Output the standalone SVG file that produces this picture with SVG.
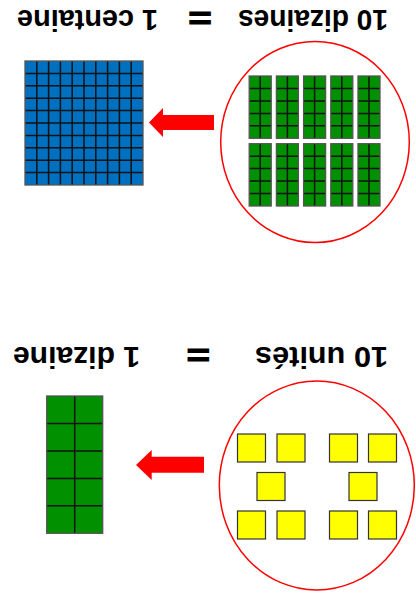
<svg xmlns="http://www.w3.org/2000/svg" xmlns:xlink="http://www.w3.org/1999/xlink" width="416" height="605" viewBox="0 0 416 605">
<style>
.t{font-family:"Liberation Sans",Arial,sans-serif;font-weight:bold;font-size:30px;fill:#000}
.eq{font-family:"Liberation Sans",Arial,sans-serif;font-weight:bold;font-size:32px;fill:#000;stroke:#000;stroke-width:1.2}
.ring{fill:none;stroke:#ff0000;stroke-width:1.5}
.g{fill:#009000}
.b{fill:#0070c0}
.y{fill:#ffff00;stroke:#333;stroke-width:1.2}
.ln{fill:none;stroke:#111;stroke-width:1.5}
.ob{fill:none;stroke:#555;stroke-width:1.3}
.arr{fill:#ff0000}
</style>
<defs>
<g id="bar">
<rect class="g" x="0" y="0" width="22" height="62.3"/>
<path class="ln" d="M11 0V62.3M0 12.46H22M0 24.92H22M0 37.38H22M0 49.84H22"/>
<rect class="ob" x="0" y="0" width="22" height="62.3"/>
</g>
</defs>
<g transform="rotate(180 208 302.5)">
<g id="text-unites">
<text class="t" x="28" y="258" textLength="133" lengthAdjust="spacingAndGlyphs">10 unités</text>
<text class="eq" transform="translate(217.7 260.6) scale(1.25 1)" text-anchor="middle">=</text>
<text class="t" x="276" y="258" textLength="127" lengthAdjust="spacingAndGlyphs">1 dizaine</text>
</g>
<g id="text-dizaines">
<text class="t" x="28" y="595" textLength="150" lengthAdjust="spacingAndGlyphs">10 dizaines</text>
<text class="eq" transform="translate(216 597.9) scale(1.25 1)" text-anchor="middle">=</text>
<text class="t" x="258" y="595" textLength="141" lengthAdjust="spacingAndGlyphs">1 centaine</text>
</g>
<g id="ten-units">
<ellipse class="ring" cx="99.2" cy="119.5" rx="97.5" ry="104.5"/>
<rect class="y" x="19.5" y="66" width="28" height="28"/>
<rect class="y" x="58.5" y="66" width="28" height="28"/>
<rect class="y" x="111" y="66" width="28" height="28"/>
<rect class="y" x="150.5" y="66" width="28" height="28"/>
<rect class="y" x="39" y="104.5" width="28" height="28"/>
<rect class="y" x="131" y="104.5" width="28" height="28"/>
<rect class="y" x="19.5" y="143" width="28" height="28"/>
<rect class="y" x="58.5" y="143" width="28" height="28"/>
<rect class="y" x="111" y="143" width="28" height="28"/>
<rect class="y" x="150.5" y="143" width="28" height="28"/>
</g>
<g id="one-ten">
<rect class="g" x="313.3" y="71.7" width="56" height="137.3"/>
<path class="ln" d="M341.3 71.7V209M313.3 99.16H369.3M313.3 126.62H369.3M313.3 154.08H369.3M313.3 181.54H369.3"/>
<rect class="ob" x="313.3" y="71.7" width="56" height="137.3"/>
</g>
<g id="ten-tens">
<ellipse class="ring" cx="101" cy="463" rx="94.3" ry="100.5"/>
<use xlink:href="#bar" x="36" y="399"/>
<use xlink:href="#bar" x="63.2" y="399"/>
<use xlink:href="#bar" x="90.4" y="399"/>
<use xlink:href="#bar" x="117.6" y="399"/>
<use xlink:href="#bar" x="144.8" y="399"/>
<use xlink:href="#bar" x="36" y="466.7"/>
<use xlink:href="#bar" x="63.2" y="466.7"/>
<use xlink:href="#bar" x="90.4" y="466.7"/>
<use xlink:href="#bar" x="117.6" y="466.7"/>
<use xlink:href="#bar" x="144.8" y="466.7"/>
</g>
<g id="one-hundred">
<rect class="b" x="273" y="420" width="118" height="124"/>
<path class="ln" d="M284.8 420V544M296.6 420V544M308.4 420V544M320.2 420V544M332 420V544M343.8 420V544M355.6 420V544M367.4 420V544M379.2 420V544M273 432.4H391M273 444.8H391M273 457.2H391M273 469.6H391M273 482H391M273 494.4H391M273 506.8H391M273 519.2H391M273 531.6H391"/>
<rect class="ob" x="273" y="420" width="118" height="124"/>
</g>
<g id="connectors">
<path class="arr" d="M212 132.3H264.3V125L280 140L264.3 155V148.3H212Z"/>
<path class="arr" d="M202 475H253V468L267 482.5L253 497V490H202Z"/>
</g>
</g>
</svg>
